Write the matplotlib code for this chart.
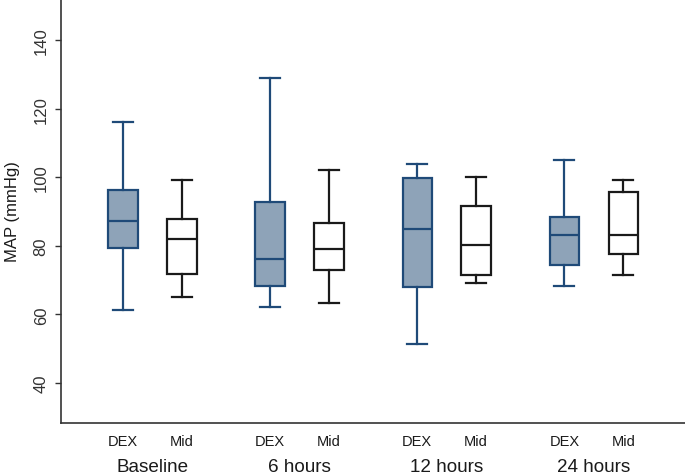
import matplotlib
matplotlib.use("Agg")
import matplotlib.pyplot as plt
from matplotlib.transforms import blended_transform_factory

plt.rcParams['font.family'] = ['Liberation Sans', 'DejaVu Sans']

groups = ["Baseline", "6 hours", "12 hours", "24 hours"]
treatments = ["DEX", "Mid"]

# five-number summaries per group: [Baseline, 6h, 12h, 24h]
dex_low = [61.2, 62.2, 51.3, 68.2]
dex_q1 = [79.4, 68.4, 67.9, 74.5]
dex_med = [87.1, 76.2, 84.8, 83.1]
dex_q3 = [96.4, 92.8, 99.7, 88.3]
dex_high = [116.1, 128.9, 104.0, 105.1]

mid_low = [65.2, 63.2, 69.2, 71.4]
mid_q1 = [71.7, 72.9, 71.6, 77.5]
mid_med = [82.1, 79.2, 80.2, 83.1]
mid_q3 = [87.7, 86.6, 91.7, 95.8]
mid_high = [99.2, 102.2, 100.1, 99.3]

yticks = [40, 60, 80, 100, 120, 140]

dex_edge = "#1f4a78"
dex_fill = "#8ea3b8"
mid_edge = "#1a1a1a"

fig = plt.figure(figsize=(6.85, 4.77), dpi=100)
ax = fig.add_axes([0.089, 0.111, 0.911, 0.889])

def stats(low, q1, med, q3, high):
    return [dict(whislo=a, q1=b, med=c, q3=d, whishi=e, fliers=[])
            for a, b, c, d, e in zip(low, q1, med, q3, high)]

dex_pos = [1 + 2.5 * i for i in range(len(groups))]
mid_pos = [p + 1 for p in dex_pos]

def draw(st, pos, edge, fill):
    ax.bxp(st, positions=pos, widths=0.5, patch_artist=True, showfliers=False,
           boxprops=dict(facecolor=fill, edgecolor=edge, linewidth=1.6),
           whiskerprops=dict(color=edge, linewidth=1.6),
           capprops=dict(color=edge, linewidth=1.6),
           medianprops=dict(color=edge, linewidth=1.6),
           capwidths=0.34, manage_ticks=False)

draw(stats(dex_low, dex_q1, dex_med, dex_q3, dex_high), dex_pos, dex_edge, dex_fill)
draw(stats(mid_low, mid_q1, mid_med, mid_q3, mid_high), mid_pos, mid_edge, "white")

ax.set_xlim(-0.056, 10.55)
ax.set_ylim(28.3, 152)
ax.set_yticks(yticks)
ax.set_yticklabels([str(v) for v in yticks], rotation=90, va="center", fontsize=12, color="#333333")
ax.tick_params(axis="y", length=4.3, width=1, color="#333333", pad=4.5)

xt = []
xl = []
for d, m in zip(dex_pos, mid_pos):
    xt += [d, m]
    xl += treatments
ax.set_xticks(xt)
ax.set_xticklabels(xl, fontsize=10.5, color="#1a1a1a")
ax.tick_params(axis="x", length=0, pad=8)

trans = blended_transform_factory(ax.transData, fig.transFigure)
for g, d, m in zip(groups, dex_pos, mid_pos):
    ax.text((d + m) / 2, 1 - 472 / 477, g, transform=trans, ha="center", va="baseline",
            fontsize=13.6, color="#1a1a1a")

ax.set_ylabel("MAP (mmHg)", fontsize=12, color="#1a1a1a", labelpad=10)

for s in ["top", "right"]:
    ax.spines[s].set_visible(False)
for s in ["left", "bottom"]:
    ax.spines[s].set_color("#333333")
    ax.spines[s].set_linewidth(1.2)

fig.savefig("out.png", dpi=100)
